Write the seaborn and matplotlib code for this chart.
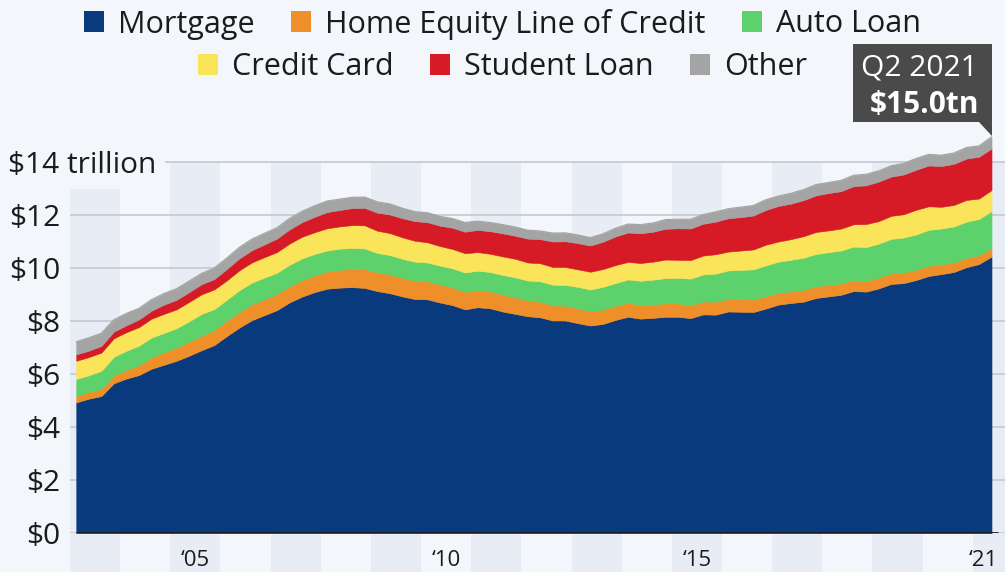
import numpy as np
import pandas as pd
import matplotlib
matplotlib.use('Agg')
import matplotlib.pyplot as plt
import seaborn as sns
from matplotlib.patches import Patch, Rectangle, Polygon
import matplotlib.transforms as mtransforms

# household debt by type, trillion USD, quarterly Q1 2003 - Q2 2021
years = list(range(2003, 2022))
mortgage = [4.94, 5.08, 5.18, 5.66, 5.84, 5.97, 6.21, 6.36, 6.51, 6.70, 6.91, 7.10,
            7.44, 7.76, 8.04, 8.23, 8.42, 8.71, 8.93, 9.10, 9.23, 9.27, 9.29, 9.26,
            9.14, 9.06, 8.94, 8.84, 8.83, 8.71, 8.61, 8.45, 8.53, 8.49, 8.37, 8.28,
            8.19, 8.15, 8.03, 8.03, 7.93, 7.84, 7.90, 8.05, 8.17, 8.10, 8.13, 8.17,
            8.17, 8.12, 8.26, 8.25, 8.37, 8.36, 8.35, 8.48, 8.63, 8.69, 8.74, 8.88,
            8.94, 9.00, 9.14, 9.12, 9.24, 9.41, 9.44, 9.56, 9.71, 9.78, 9.86, 10.04,
            10.16, 10.44]
heloc = [0.24, 0.26, 0.27, 0.30, 0.33, 0.37, 0.43, 0.47, 0.50, 0.53, 0.54, 0.57,
         0.58, 0.59, 0.60, 0.60, 0.61, 0.61, 0.62, 0.63, 0.65, 0.67, 0.69, 0.71,
         0.71, 0.71, 0.70, 0.70, 0.68, 0.68, 0.67, 0.66, 0.65, 0.64, 0.64, 0.63,
         0.60, 0.59, 0.57, 0.56, 0.56, 0.55, 0.54, 0.53, 0.53, 0.52, 0.51, 0.51,
         0.51, 0.49, 0.49, 0.49, 0.48, 0.48, 0.47, 0.47, 0.45, 0.44, 0.45, 0.44,
         0.44, 0.43, 0.42, 0.41, 0.41, 0.40, 0.40, 0.39, 0.39, 0.38, 0.36, 0.35,
         0.33, 0.32]
auto_loan = [0.64, 0.62, 0.68, 0.70, 0.72, 0.74, 0.75, 0.73, 0.73, 0.77, 0.83, 0.79,
             0.79, 0.82, 0.82, 0.82, 0.80, 0.81, 0.82, 0.81, 0.79, 0.80, 0.79, 0.78,
             0.73, 0.73, 0.72, 0.71, 0.71, 0.71, 0.72, 0.73, 0.73, 0.73, 0.74, 0.75,
             0.75, 0.77, 0.78, 0.78, 0.81, 0.81, 0.86, 0.86, 0.88, 0.91, 0.93, 0.95,
             0.96, 1.00, 1.02, 1.06, 1.07, 1.10, 1.14, 1.16, 1.17, 1.19, 1.21, 1.22,
             1.23, 1.24, 1.26, 1.27, 1.28, 1.30, 1.32, 1.33, 1.35, 1.34, 1.36, 1.37,
             1.37, 1.40]
credit_card = [0.69, 0.69, 0.69, 0.70, 0.70, 0.70, 0.71, 0.72, 0.71, 0.73, 0.74, 0.74,
               0.73, 0.75, 0.76, 0.77, 0.78, 0.80, 0.82, 0.82, 0.84, 0.84, 0.86, 0.87,
               0.84, 0.83, 0.81, 0.79, 0.76, 0.74, 0.73, 0.73, 0.70, 0.69, 0.70, 0.70,
               0.68, 0.68, 0.67, 0.68, 0.66, 0.67, 0.67, 0.68, 0.66, 0.67, 0.68, 0.70,
               0.68, 0.70, 0.71, 0.73, 0.71, 0.73, 0.75, 0.78, 0.76, 0.78, 0.81, 0.83,
               0.82, 0.83, 0.84, 0.87, 0.85, 0.87, 0.88, 0.93, 0.89, 0.82, 0.81, 0.82,
               0.77, 0.79]
student_loan = [0.24, 0.24, 0.25, 0.25, 0.26, 0.29, 0.30, 0.35, 0.36, 0.37, 0.38, 0.39,
                0.43, 0.45, 0.46, 0.48, 0.51, 0.53, 0.55, 0.58, 0.61, 0.62, 0.64, 0.66,
                0.68, 0.70, 0.72, 0.74, 0.76, 0.77, 0.80, 0.81, 0.84, 0.85, 0.87, 0.87,
                0.90, 0.91, 0.96, 0.97, 0.99, 0.99, 1.03, 1.08, 1.11, 1.12, 1.13, 1.16,
                1.19, 1.19, 1.20, 1.23, 1.26, 1.26, 1.28, 1.31, 1.34, 1.34, 1.36, 1.38,
                1.41, 1.41, 1.44, 1.46, 1.49, 1.48, 1.50, 1.51, 1.54, 1.54, 1.55, 1.56,
                1.58, 1.57]
other = [0.48, 0.49, 0.48, 0.45, 0.45, 0.42, 0.42, 0.42, 0.42, 0.42, 0.41, 0.42,
         0.42, 0.42, 0.42, 0.42, 0.41, 0.42, 0.41, 0.42, 0.42, 0.41, 0.41, 0.41,
         0.41, 0.40, 0.38, 0.36, 0.36, 0.35, 0.35, 0.35, 0.33, 0.33, 0.33, 0.33,
         0.32, 0.31, 0.32, 0.32, 0.31, 0.30, 0.30, 0.31, 0.32, 0.33, 0.33, 0.35,
         0.34, 0.35, 0.35, 0.37, 0.36, 0.38, 0.38, 0.39, 0.38, 0.39, 0.40, 0.41,
         0.40, 0.41, 0.41, 0.42, 0.41, 0.41, 0.42, 0.43, 0.42, 0.41, 0.41, 0.42,
         0.41, 0.44]

series_names = ["Mortgage", "Home Equity Line of Credit", "Auto Loan",
                "Credit Card", "Student Loan", "Other"]
colors = ["#0a3a7e", "#ef8f2a", "#5dd16b", "#f9e45a", "#d61a26", "#a4a4a4"]
xtick_labels = ["\u201805", "\u201810", "\u201815", "\u201821"]

quarters = [f"{y} Q{q}" for y in years for q in range(1, 5)][:len(mortgage)]
df = pd.DataFrame({"quarter": quarters,
                   "Mortgage": mortgage,
                   "Home Equity Line of Credit": heloc,
                   "Auto Loan": auto_loan,
                   "Credit Card": credit_card,
                   "Student Loan": student_loan,
                   "Other": other})
# quarter midpoint on a continuous year axis
df["x"] = [int(q[:4]) + (int(q[-1]) - 0.5) / 4 for q in df["quarter"]]
df["total"] = df[series_names].sum(axis=1)

bg = "#f3f6fa"
band = "#e8edf5"
txt = "#1b1b1b"

sns.set_theme(style="white")
plt.rcParams['font.family'] = ['Open Sans', 'DejaVu Sans']

fig = plt.figure(figsize=(10.05, 5.72), dpi=100, facecolor=bg)
ax = fig.add_axes([70 / 1005, 38.7 / 572, 935 / 1005, 403.3 / 572])
ax.set_facecolor(bg)
ytop = 403.3 / 26.5
ax.set_xlim(2003, 2003 + 935 / 50.15)
ax.set_ylim(0, ytop)

# alternating year bands
for y in years:
    if y % 2 == 1:
        ax.axvspan(y, y + 1, ymin=-0.1, ymax=14 / ytop, color=band, lw=0,
                   zorder=0, clip_on=False)

ax.stackplot(df["x"], [df[c] for c in series_names], colors=colors,
             edgecolor="face", linewidth=0.4, zorder=2)
sns.lineplot(x=df["x"], y=df["total"], color=colors[-1], lw=0.8, ax=ax, zorder=2)
ax.plot([df["x"].iloc[0], 2021.5], [0, 0], color="#1a1a1a", lw=2, zorder=4,
        solid_capstyle="butt")

ax.set_axisbelow(True)
ax.yaxis.grid(True, color="#c6ccd2", lw=1.3)
ax.xaxis.grid(False)
for s in ax.spines.values():
    s.set_visible(False)

yt = list(range(0, 15, 2))
ax.set_yticks(yt)
ax.set_yticklabels([f"\\${v}" for v in yt[:-1]] + [""], fontsize=21.5, color=txt)
ax.set_xticks([2005.5, 2010.5, 2015.5, 2021.5])
ax.set_xticklabels(xtick_labels, fontsize=16, color=txt)
ax.xaxis.get_ticklabels()[-1].set_horizontalalignment("right")
ax.tick_params(axis="y", length=0, pad=7)
ax.tick_params(axis="x", length=0, pad=12)
ax.set_xlabel("")
ax.set_ylabel("")

trans = mtransforms.blended_transform_factory(ax.transAxes, ax.transData)
ax.text(-62 / 935, 14, "\\$14 trillion", transform=trans, fontsize=21.5, color=txt,
        ha="left", va="center_baseline", zorder=6,
        bbox=dict(boxstyle="square,pad=0.3", fc=bg, ec="none"))

# legend in two centered rows
handles = [Patch(facecolor=c, edgecolor="none", label=n) for c, n in zip(colors, series_names)]
for row, yy in ((handles[:3], 1 - 24 / 572), (handles[3:], 1 - 67 / 572)):
    fig.legend(handles=row, loc="center", bbox_to_anchor=(0.5, yy), ncol=3,
               frameon=False, fontsize=22, handlelength=0.66, handleheight=0.66,
               handletextpad=0.45, columnspacing=1.2, borderaxespad=0, borderpad=0,
               labelcolor=txt)

# callout for the last quarter
last_x = df["x"].iloc[-1]
last_total = df["total"].iloc[-1]
px, py = ax.transData.transform((last_x, last_total))
box = Rectangle((px - 139, py + 15), 139, 78, transform=None, fc="#4a4a4a",
                ec="none", zorder=10, clip_on=False)
tip = Polygon([(px - 14, py + 15.5), (px, py + 15.5), (px, py + 1)], closed=True,
              transform=None, fc="#4a4a4a", ec="none", zorder=10, clip_on=False)
fig.add_artist(box)
fig.add_artist(tip)
fig.text((px - 14) / 1005, (py + 72) / 572, f"Q{df['quarter'].iloc[-1][-1]} {df['quarter'].iloc[-1][:4]}",
         ha="right", va="center_baseline", fontsize=21.5, color="white", zorder=11)
fig.text((px - 12) / 1005, (py + 35) / 572, f"\\${last_total:.1f}tn",
         ha="right", va="center_baseline", fontsize=21.5, color="white",
         fontweight="bold", zorder=11)

fig.savefig("out.png", dpi=100, facecolor=bg)
